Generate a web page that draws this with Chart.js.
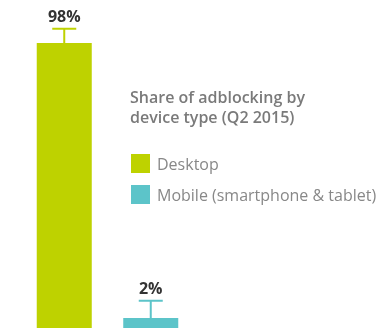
<!DOCTYPE html>
<html>
<head>
<meta charset="utf-8">
<script src="https://cdn.jsdelivr.net/npm/chart.js@4"></script>
<style>
  body { margin: 0; background: #fff; }
  #wrap { width: 381px; height: 328px; position: relative; }
</style>
</head>
<body>
<div id="wrap"><canvas id="myChart"></canvas></div>
<script>
const categories = ['Desktop', 'Mobile (smartphone & tablet)'];
const shares = [98, 2];
const errors = [5, 6];
const valueLabels = ['98%', '2%'];
const legendTitle = ['Share of adblocking by', 'device type (Q2 2015)'];
const colors = ['rgb(190, 210, 0)', 'rgb(92, 196, 201)'];

const capsPlugin = {
    id: 'caps',
    afterDatasetsDraw(chart) {
        const ctx = chart.ctx;
        const meta = chart.getDatasetMeta(0);
        const y = chart.scales.y;
        ctx.save();
        meta.data.forEach((bar, i) => {
            const yCap = y.getPixelForValue(shares[i] + errors[i]);
            ctx.strokeStyle = colors[i];
            ctx.lineWidth = 2;
            ctx.beginPath();
            ctx.moveTo(bar.x, bar.y);
            ctx.lineTo(bar.x, yCap);
            ctx.moveTo(bar.x - 12, yCap);
            ctx.lineTo(bar.x + 12, yCap);
            ctx.stroke();
            ctx.fillStyle = '#333';
            ctx.font = 'bold 16px "Open Sans"';
            ctx.textAlign = 'center';
            ctx.textBaseline = 'alphabetic';
            ctx.fillText(valueLabels[i], bar.x, yCap - 7);
        });
        ctx.restore();
    }
};

const legendPlugin = {
    id: 'sideLegend',
    afterDraw(chart) {
        const ctx = chart.ctx;
        ctx.save();
        ctx.textAlign = 'left';
        ctx.textBaseline = 'alphabetic';
        ctx.fillStyle = '#7a7a7a';
        ctx.font = '600 16px "Open Sans"';
        legendTitle.forEach((t, i) => ctx.fillText(t, 130, 103 + i * 20));
        ctx.font = '16px "Open Sans"';
        categories.forEach((c, i) => {
            const top = 154 + i * 31;
            ctx.fillStyle = colors[i];
            ctx.fillRect(131, top, 19, 19);
            ctx.fillStyle = '#888';
            ctx.fillText(c, 157, top + 16);
        });
        ctx.restore();
    }
};

const data = {
    labels: categories,
    datasets: [{
        data: shares,
        backgroundColor: colors,
        borderWidth: 0,
        base: -1.5,
        barPercentage: 0.636,
        categoryPercentage: 1,
    }]
};

const options = {
    responsive: true,
    maintainAspectRatio: false,
    animation: false,
    layout: {
        padding: { left: 21, right: 187, top: 0, bottom: 0 }
    },
    scales: {
        x: { display: false },
        y: { display: false, min: -1.5, max: 113 }
    },
    plugins: {
        legend: { display: false },
        tooltip: { enabled: false }
    }
};

const myChart = new Chart(document.getElementById('myChart'), {
    type: 'bar',
    data: data,
    options: options,
    plugins: [capsPlugin, legendPlugin]
});
</script>
</body>
</html>
